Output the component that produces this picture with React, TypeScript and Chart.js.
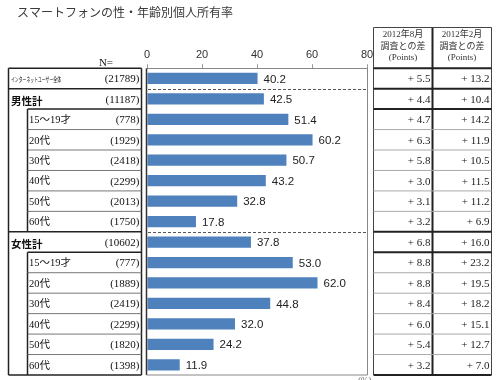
import React, { useEffect, useRef } from "react";
import { Chart, registerables } from "chart.js";

Chart.register(...registerables);

const titleText = "スマートフォンの性・年齢別個人所有率";
const categories = [
  "インターネットユーザー全体",
  "男性計",
  "15～19才",
  "20代",
  "30代",
  "40代",
  "50代",
  "60代",
  "女性計",
  "15～19才",
  "20代",
  "30代",
  "40代",
  "50代",
  "60代",
];
// 0 = overall, 1 = group total, 2 = age sub-row
const rowLevel = [0, 1, 2, 2, 2, 2, 2, 2, 1, 2, 2, 2, 2, 2, 2];
const sampleSizes = [21789, 11187, 778, 1929, 2418, 2299, 2013, 1750, 10602, 777, 1889, 2419, 2299, 1820, 1398];
const ownershipRate = [40.2, 42.5, 51.4, 60.2, 50.7, 43.2, 32.8, 17.8, 37.8, 53.0, 62.0, 44.8, 32.0, 24.2, 11.9];
const diffAug2012 = [5.5, 4.4, 4.7, 6.3, 5.8, 3.0, 3.1, 3.2, 6.8, 8.8, 8.8, 8.4, 6.0, 5.4, 3.2];
const diffFeb2012 = [13.2, 10.4, 14.2, 11.9, 10.5, 11.5, 11.2, 6.9, 16.0, 23.2, 19.5, 18.2, 15.1, 12.7, 7.0];
const headerAug = ["2012年8月", "調査との差", "(Points)"];
const headerFeb = ["2012年2月", "調査との差", "(Points)"];
const nLabel = "N=";
const unitLabel = "(%)";
const xMin = 0;
const xMax = 80;
const xStep = 20;

const SANS = "'Noto Sans CJK JP', 'Noto Sans', sans-serif";
const SERIF = "'Liberation Serif', 'DejaVu Serif', 'Noto Sans CJK JP', serif";

const tablesPlugin = {
  id: "tables",
  afterDatasetsDraw(chart: any) {
    const ctx = chart.ctx as CanvasRenderingContext2D;
    const meta = chart.getDatasetMeta(0);
    ctx.save();
    ctx.fillStyle = "#222";
    ctx.font = "11.5px 'Liberation Sans', Arial, sans-serif";
    ctx.textBaseline = "middle";
    ctx.textAlign = "left";
    meta.data.forEach((el: any, i: number) => {
      ctx.fillText(ownershipRate[i].toFixed(1), el.x + 6, el.y + 1);
    });
    ctx.restore();
  },
  afterDraw(chart: any) {
    const ctx = chart.ctx as CanvasRenderingContext2D;
    const ys = chart.scales.y;
    const area = chart.chartArea;
    const n = categories.length;
    const band = ys.getPixelForValue(1) - ys.getPixelForValue(0);
    const top = ys.getPixelForValue(0) - band / 2;
    const bound = (k: number) => top + k * band;
    const center = (i: number) => ys.getPixelForValue(i);

    const line = (x1: number, y1: number, x2: number, y2: number, color: string, w: number, dash?: number[]) => {
      ctx.save();
      ctx.strokeStyle = color;
      ctx.lineWidth = w;
      if (dash) ctx.setLineDash(dash);
      ctx.beginPath();
      ctx.moveTo(x1, y1);
      ctx.lineTo(x2, y2);
      ctx.stroke();
      ctx.restore();
    };

    // Title
    ctx.save();
    ctx.fillStyle = "#3a3a3a";
    ctx.font = "12px " + SANS;
    ctx.textBaseline = "middle";
    ctx.textAlign = "left";
    ctx.fillText(titleText, 17, 12);
    ctx.restore();

    // Plot box
    line(area.left - 0.5, area.top, area.left - 0.5, area.bottom, "#333", 1.5);
    line(area.right + 0.5, area.top, area.right + 0.5, area.bottom, "#888", 1);
    line(area.left - 0.5, area.bottom, area.right + 0.5, area.bottom, "#888", 1);
    for (let k = 1; k < n; k++) {
      if (rowLevel[k] === 1) {
        line(area.left + 1, Math.round(bound(k)) + 0.5, area.right - 1, Math.round(bound(k)) + 0.5, "#555", 1, [3, 2]);
      }
    }

    // Left table
    const L0 = 8.5, L1 = 27.5, R = 141.5;
    line(L0, bound(0), R, bound(0), "#222", 1.5);
    line(L0, bound(0), L0, bound(n), "#222", 1.5);
    line(R, bound(0), R, bound(n), "#222", 1.5);
    line(L0, bound(n), R, bound(n), "#222", 1.5);
    for (let k = 1; k < n; k++) {
      const start = rowLevel[k] === 2 ? L1 : L0;
      const dark = !(rowLevel[k] === 2 && rowLevel[k - 1] === 2);
      line(start, bound(k), R, bound(k), dark ? "#222" : "#777", dark ? 1.5 : 1);
    }
    for (let i = 0; i < n; i++) {
      if (rowLevel[i] === 2) line(L1, bound(i), L1, bound(i + 1), "#222", 1.5);
    }
    ctx.save();
    ctx.fillStyle = "#111";
    ctx.textBaseline = "middle";
    for (let i = 0; i < n; i++) {
      const cy = center(i) + 1;
      ctx.textAlign = "left";
      if (rowLevel[i] === 0) {
        ctx.font = "6.5px " + SANS;
        ctx.fillText(categories[i], 11, cy, 50);
      } else if (rowLevel[i] === 1) {
        ctx.font = "bold 10.5px " + SANS;
        ctx.fillText(categories[i], 11, cy + 1);
      } else {
        ctx.font = "10.5px " + SERIF;
        ctx.fillText(categories[i], 29, cy);
      }
      ctx.textAlign = "right";
      ctx.font = "11px " + SERIF;
      ctx.fillText("(" + sampleSizes[i] + ")", 139.5, cy);
    }
    ctx.textAlign = "center";
    ctx.font = "11px " + SERIF;
    ctx.fillText(nLabel, 106, bound(0) - 5);
    ctx.textAlign = "left";
    ctx.textBaseline = "top";
    ctx.font = "9px " + SERIF;
    ctx.fillStyle = "#666";
    ctx.fillText(unitLabel, 358, 376.5);
    ctx.restore();

    // Right table
    const RL = 373.5, RM = 432.5, RR = 491.5, HT = 27.5;
    line(RL, HT, RL, bound(n), "#444", 1);
    line(RM, HT, RM, bound(n), "#222", 2);
    line(RR, HT, RR, bound(n), "#444", 1);
    line(RL, HT, RR, HT, "#444", 1);
    line(RL, bound(0), RR, bound(0), "#222", 2);
    for (let k = 1; k < n; k++) {
      const thick = rowLevel[k] <= 1 || rowLevel[k - 1] <= 1;
      line(RL, bound(k), RR, bound(k), thick ? "#222" : "#aaa", thick ? 2 : 1);
    }
    line(RL, bound(n), RR, bound(n), "#222", 2);
    ctx.save();
    ctx.fillStyle = "#333";
    ctx.textBaseline = "middle";
    ctx.textAlign = "center";
    ctx.font = "9px " + SERIF;
    const hy = [35, 47, 58];
    headerAug.forEach((t, j) => ctx.fillText(t, (RL + RM) / 2, hy[j]));
    headerFeb.forEach((t, j) => ctx.fillText(t, (RM + RR) / 2, hy[j]));
    ctx.fillStyle = "#222";
    ctx.textAlign = "right";
    ctx.font = "11px " + SERIF;
    for (let i = 0; i < n; i++) {
      const cy = center(i) + 1;
      ctx.fillText("+ " + diffAug2012[i].toFixed(1), RM - 2, cy);
      ctx.fillText("+ " + diffFeb2012[i].toFixed(1), RR - 2, cy);
    }
    ctx.restore();
  },
};

export default function App() {
  const ref = useRef<HTMLCanvasElement>(null);
  useEffect(() => {
    const chart = new Chart(ref.current as HTMLCanvasElement, {
      type: "bar",
      data: {
        labels: categories,
        datasets: [
          {
            data: ownershipRate,
            backgroundColor: "#4F81BD",
            borderWidth: 0,
            barPercentage: 0.55,
            categoryPercentage: 1,
          },
        ],
      },
      options: {
        indexAxis: "y",
        responsive: false,
        animation: false,
        devicePixelRatio: 1,
        layout: { padding: { left: 147, right: 133, top: 45, bottom: 5 } },
        plugins: {
          legend: { display: false },
          title: { display: false },
          tooltip: { enabled: false },
        },
        scales: {
          x: {
            position: "top",
            min: xMin,
            max: xMax,
            ticks: {
              stepSize: xStep,
              color: "#333",
              padding: 3,
              font: { family: "'Liberation Sans', Arial, sans-serif", size: 11 },
            },
            grid: { drawOnChartArea: false, drawTicks: true, tickLength: 4, color: "#999" },
            border: { display: true, color: "#888" },
          },
          y: { display: false },
        },
      },
      plugins: [tablesPlugin],
    } as any);
    return () => chart.destroy();
  }, []);
  return (
    <div style={{ position: "absolute", left: 0, top: 0, width: 500, height: 380, background: "#fff" }}>
      <canvas ref={ref} width={500} height={380} style={{ display: "block" }} />
    </div>
  );
}
